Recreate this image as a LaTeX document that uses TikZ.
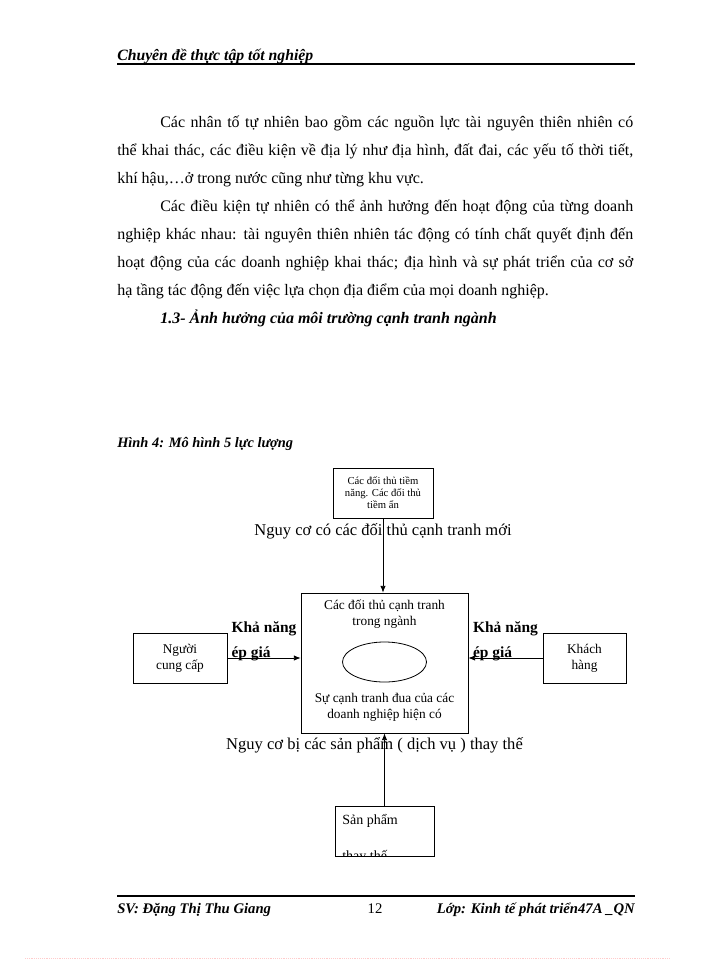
\documentclass[tikz,border=0pt]{standalone}
\usepackage{fontspec}
\setmainfont{Liberation Serif}
\usetikzlibrary{arrows.meta, shapes.geometric}

\begin{document}
\begin{tikzpicture}[x=0.75pt, y=-0.75pt,
  box/.style={rectangle, draw, line width=0.6pt, inner sep=0pt},
  boxtxt/.style={font=\fontsize{10}{12}\selectfont, align=center},
  arr/.style={-{Latex[length=5pt, width=4pt]}, line width=0.6pt},
  lbl/.style={font=\fontsize{12.4}{14}\selectfont, inner sep=0pt},
  pressure/.style={font=\bfseries\fontsize{11.6}{18.75}\selectfont, align=left, inner sep=0pt},
  body/.style={font=\fontsize{12}{14}\selectfont, anchor=base west, inner sep=0pt},
  heading/.style={font=\bfseries\itshape\fontsize{11}{12}\selectfont, anchor=base west, inner sep=0pt}]
\useasboundingbox (0,0) rectangle (700,960);
\node[heading, font=\bfseries\itshape\fontsize{11.8}{12}\selectfont] (hdr) at (117,60) {Chuyên đề thực tập tốt nghiệp};
\draw[line width=1pt] (117,64) -- (635,64);
\node[body] (l1) at (160,127) {\makebox[354.75pt][s]{Các nhân tố tự nhiên bao gồm các nguồn lực tài nguyên thiên nhiên có}};
\node[body] (l2) at (117,155) {\makebox[387pt][s]{thể khai thác, các điều kiện về địa lý như địa hình, đất đai, các yếu tố thời tiết,}};
\node[body] (l3) at (117,183) {khí hậu,…ở trong nước cũng như từng khu vực.};
\node[body] (l4) at (160,211) {\makebox[354.75pt][s]{Các điều kiện tự nhiên có thể ảnh hưởng đến hoạt động của từng doanh}};
\node[body] (l5) at (117,239) {\makebox[387pt][s]{nghiệp khác nhau: tài nguyên thiên nhiên tác động có tính chất quyết định đến}};
\node[body] (l6) at (117,267) {\makebox[387pt][s]{hoạt động của các doanh nghiệp khai thác; địa hình và sự phát triển của cơ sở}};
\node[body] (l7) at (117,295) {hạ tầng tác động đến việc lựa chọn địa điểm của mọi doanh nghiệp.};
\node[heading, font=\bfseries\itshape\fontsize{12}{14}\selectfont] (sec) at (160,323) {1.3- Ảnh hưởng của môi trường cạnh tranh ngành};
\node[heading, font=\bfseries\itshape\fontsize{10.8}{12}\selectfont] (cap) at (117,447) {Hình 4: Mô hình 5 lực lượng};
\node[box, boxtxt, font=\fontsize{8}{9}\selectfont, minimum width=75pt, minimum height=37.5pt] (entrant) at (383,493) {Các đối thủ tiềm\\năng. Các đối thủ\\tiềm ẩn};
\node[box, minimum width=125.25pt, minimum height=105pt] (rivalry) at (384.5,663) {};
\node[draw, ellipse, line width=0.6pt, minimum width=63pt, minimum height=30pt] (core) at (384.5,662) {};
\node[boxtxt] (rivtop) at (384.5,614.5) {Các đối thủ cạnh tranh\\trong ngành};
\node[boxtxt] (rivbot) at (384.5,707.5) {Sự cạnh tranh đua của các\\doanh nghiệp hiện có};
\node[box, boxtxt, minimum width=70.5pt, minimum height=37.5pt] (supplier) at (180,658) {Người\\cung cấp};
\node[box, boxtxt, minimum width=62.25pt, minimum height=37.5pt] (buyer) at (584.5,658) {Khách\\hàng};
\node[box, minimum width=74.25pt, minimum height=37.5pt] (subst) at (384.5,831) {};
\begin{scope}
\clip (subst.south west) rectangle (subst.north east);
\node[body, font=\fontsize{10.5}{12}\selectfont] (substa) at (342,824) {Sản phẩm};
\node[body, font=\fontsize{10.5}{12}\selectfont] (substb) at (342,860) {thay thế};
\end{scope}
\node[lbl] (newrisk) at (383,531) {Nguy cơ có các đối thủ cạnh tranh mới};
\node[lbl] (substrisk) at (374.5,745) {Nguy cơ bị các sản phẩm ( dịch vụ ) thay thế};
\draw[arr] (entrant.south) -- (entrant.south |- rivalry.north);
\draw[arr] (subst.north) -- (subst.north |- rivalry.south);
\draw[arr] (supplier.east) -- node[pressure, above=-2.5pt] {Khả năng\\ép giá} (supplier.east -| rivalry.west);
\draw[arr] (buyer.west) -- node[pressure, above=-2.5pt] {Khả năng\\ép giá} (buyer.west -| rivalry.east);
\draw[line width=1.5pt] (117,896) -- (635,896);
\node[heading] (sv) at (117,913) {SV: Đặng Thị Thu Giang};
\node[body, font=\fontsize{11}{12}\selectfont, anchor=base] (pg) at (375,913) {12};
\node[heading, anchor=base east] (lop) at (635,913) {Lớp: Kinh tế phát triển47A \_QN};
\draw[red!20, densely dotted] (25,958) -- (670,958);
\end{tikzpicture}
\end{document}
